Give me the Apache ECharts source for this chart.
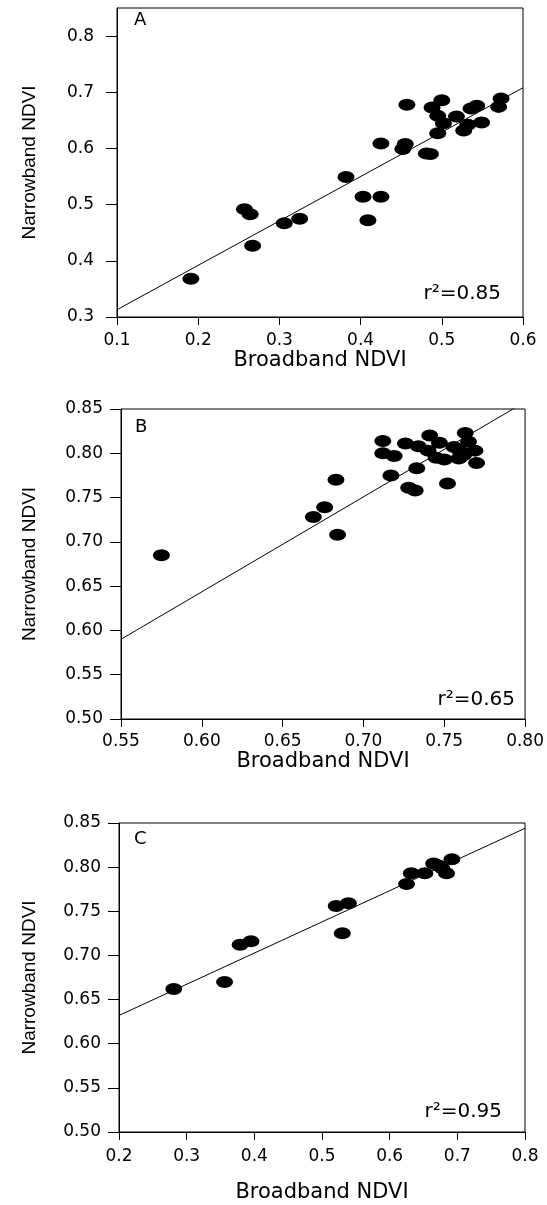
<!DOCTYPE html>
<html>
<head>
<meta charset="utf-8">
<script src="https://cdn.jsdelivr.net/npm/echarts@6/dist/echarts.min.js"></script>
<style>
  html, body { margin: 0; padding: 0; background: #fff; }
  #chart { width: 547px; height: 1205px; }
</style>
</head>
<body>
<div id="chart"></div>
<script>
// Narrowband vs broadband NDVI, three panels (A, B, C)
const bbA = [0.191, 0.257, 0.264, 0.267, 0.306, 0.325, 0.382, 0.403, 0.425, 0.409,
             0.425, 0.455, 0.452, 0.457, 0.481, 0.486, 0.488, 0.500, 0.495, 0.502,
             0.495, 0.518, 0.527, 0.532, 0.536, 0.543, 0.549, 0.570, 0.573];
const nbA = [0.368, 0.492, 0.483, 0.427, 0.467, 0.475, 0.549, 0.514, 0.514, 0.472,
             0.609, 0.608, 0.599, 0.678, 0.591, 0.590, 0.673, 0.686, 0.658, 0.645,
             0.627, 0.657, 0.632, 0.642, 0.671, 0.676, 0.646, 0.674, 0.689];

const bbB = [0.575, 0.669, 0.676, 0.683, 0.684, 0.712, 0.712, 0.719, 0.717, 0.726,
             0.728, 0.732, 0.733, 0.734, 0.740, 0.741, 0.745, 0.747, 0.750, 0.752,
             0.756, 0.759, 0.760, 0.763, 0.765, 0.762, 0.769, 0.770];
const nbB = [0.685, 0.728, 0.739, 0.770, 0.708, 0.814, 0.800, 0.797, 0.775, 0.811,
             0.761, 0.758, 0.783, 0.808, 0.803, 0.820, 0.795, 0.812, 0.793, 0.766,
             0.807, 0.794, 0.802, 0.823, 0.813, 0.798, 0.803, 0.789];

const bbC = [0.281, 0.356, 0.379, 0.395, 0.521, 0.539, 0.530, 0.625, 0.632, 0.652,
             0.665, 0.672, 0.677, 0.684, 0.692];
const nbC = [0.662, 0.670, 0.712, 0.716, 0.756, 0.759, 0.725, 0.781, 0.793, 0.793,
             0.804, 0.802, 0.799, 0.793, 0.809];

// regression line end points [x0, x1], [y0, y1]
const fitXA = [0.1, 0.6],   fitYA = [0.313, 0.708];
const fitXB = [0.55, 0.80], fitYB = [0.590, 0.858];
const fitXC = [0.2, 0.8],   fitYC = [0.632, 0.844];

const labels = ["A", "B", "C"];
const r2 = ["0.85", "0.65", "0.95"];
const yTicksA = [0.3, 0.4, 0.5, 0.6, 0.7, 0.8];

const zip = (xs, ys) => xs.map((x, i) => [x, ys[i]]);

const TICK_FONT = "DejaVu Sans";
const grids = [
  { left: 117, top: 8, right: 24, height: 309 },
  { left: 121, top: 409, right: 19, height: 310 },
  { left: 119, top: 823, right: 22, height: 309 },
];

function xAxis(i, min, max, interval, dec, nameGap, labelMargin) {
  return {
    type: "value", gridIndex: i, min, max, interval,
    name: "Broadband NDVI", nameLocation: "middle", nameGap,
    nameTextStyle: { color: "#000", fontFamily: TICK_FONT, fontSize: 21 },
    axisLine: { show: true, onZero: false, lineStyle: { color: "#000", width: 1 } },
    axisTick: { show: true, length: 8, lineStyle: { color: "#000" } },
    axisLabel: { color: "#000", fontFamily: TICK_FONT, fontSize: 17, margin: labelMargin,
                 formatter: (v) => v.toFixed(dec) },
    splitLine: { show: false },
  };
}

function yAxis(i, min, max, interval, dec, nameGap, labelMargin, custom) {
  const ax = {
    type: "value", gridIndex: i, min, max, interval,
    name: "Narrowband NDVI", nameLocation: "middle", nameGap, nameRotate: 90,
    nameTextStyle: { color: "#000", fontFamily: "Liberation Sans", fontSize: 19 },
    axisLine: { show: true, onZero: false, lineStyle: { color: "#000", width: 1 } },
    axisTick: { show: true, length: 11, lineStyle: { color: "#000" } },
    axisLabel: { color: "#000", fontFamily: TICK_FONT, fontSize: 17, margin: labelMargin,
                 formatter: (v) => v.toFixed(dec) },
    splitLine: { show: false },
  };
  if (custom) {
    ax.axisTick.customValues = custom;
    ax.axisLabel.customValues = custom;
  }
  return ax;
}

function scatter(i, data) {
  return {
    type: "scatter", xAxisIndex: i, yAxisIndex: i, data,
    symbol: "circle", symbolSize: [17, 12],
    itemStyle: { color: "#000", opacity: 1 }, silent: true, z: 3,
  };
}

function fit(i, xs, ys) {
  return {
    type: "line", xAxisIndex: i, yAxisIndex: i, data: zip(xs, ys),
    showSymbol: false, symbol: "none", clip: true, silent: true,
    lineStyle: { color: "#000", width: 1 }, z: 2,
  };
}

const letterPos = [[134, 20], [135, 427], [134, 839]];
const r2Pos = [[501, 294], [515, 700], [502, 1112]];

const graphics = [];
labels.forEach((l, i) => {
  graphics.push({
    type: "text", x: letterPos[i][0], y: letterPos[i][1],
    style: { text: l, fill: "#000", font: "18px DejaVu Sans", verticalAlign: "middle" },
  });
  graphics.push({
    type: "text", x: r2Pos[i][0], y: r2Pos[i][1],
    style: { text: "r²=" + r2[i], fill: "#000", font: "20px DejaVu Sans",
             align: "right", verticalAlign: "middle" },
  });
});

const chart = echarts.init(document.getElementById("chart"), null, { renderer: "canvas" });
chart.setOption({
  animation: false,
  backgroundColor: "#fff",
  grid: grids.map((g) => Object.assign({ show: true, borderColor: "#000", borderWidth: 1,
                                          backgroundColor: "transparent" }, g)),
  xAxis: [
    xAxis(0, 0.1, 0.6, 0.1, 1, 32, 15),
    xAxis(1, 0.55, 0.80, 0.05, 2, 32, 14),
    xAxis(2, 0.2, 0.8, 0.1, 1, 50, 16),
  ],
  yAxis: [
    yAxis(0, 0.3, 0.85, 0.1, 1, 78, 23, yTicksA),
    yAxis(1, 0.5, 0.85, 0.05, 2, 82, 18),
    yAxis(2, 0.5, 0.85, 0.05, 2, 80, 18),
  ],
  series: [
    fit(0, fitXA, fitYA), scatter(0, zip(bbA, nbA)),
    fit(1, fitXB, fitYB), scatter(1, zip(bbB, nbB)),
    fit(2, fitXC, fitYC), scatter(2, zip(bbC, nbC)),
  ],
  graphic: graphics,
});
</script>
</body>
</html>
